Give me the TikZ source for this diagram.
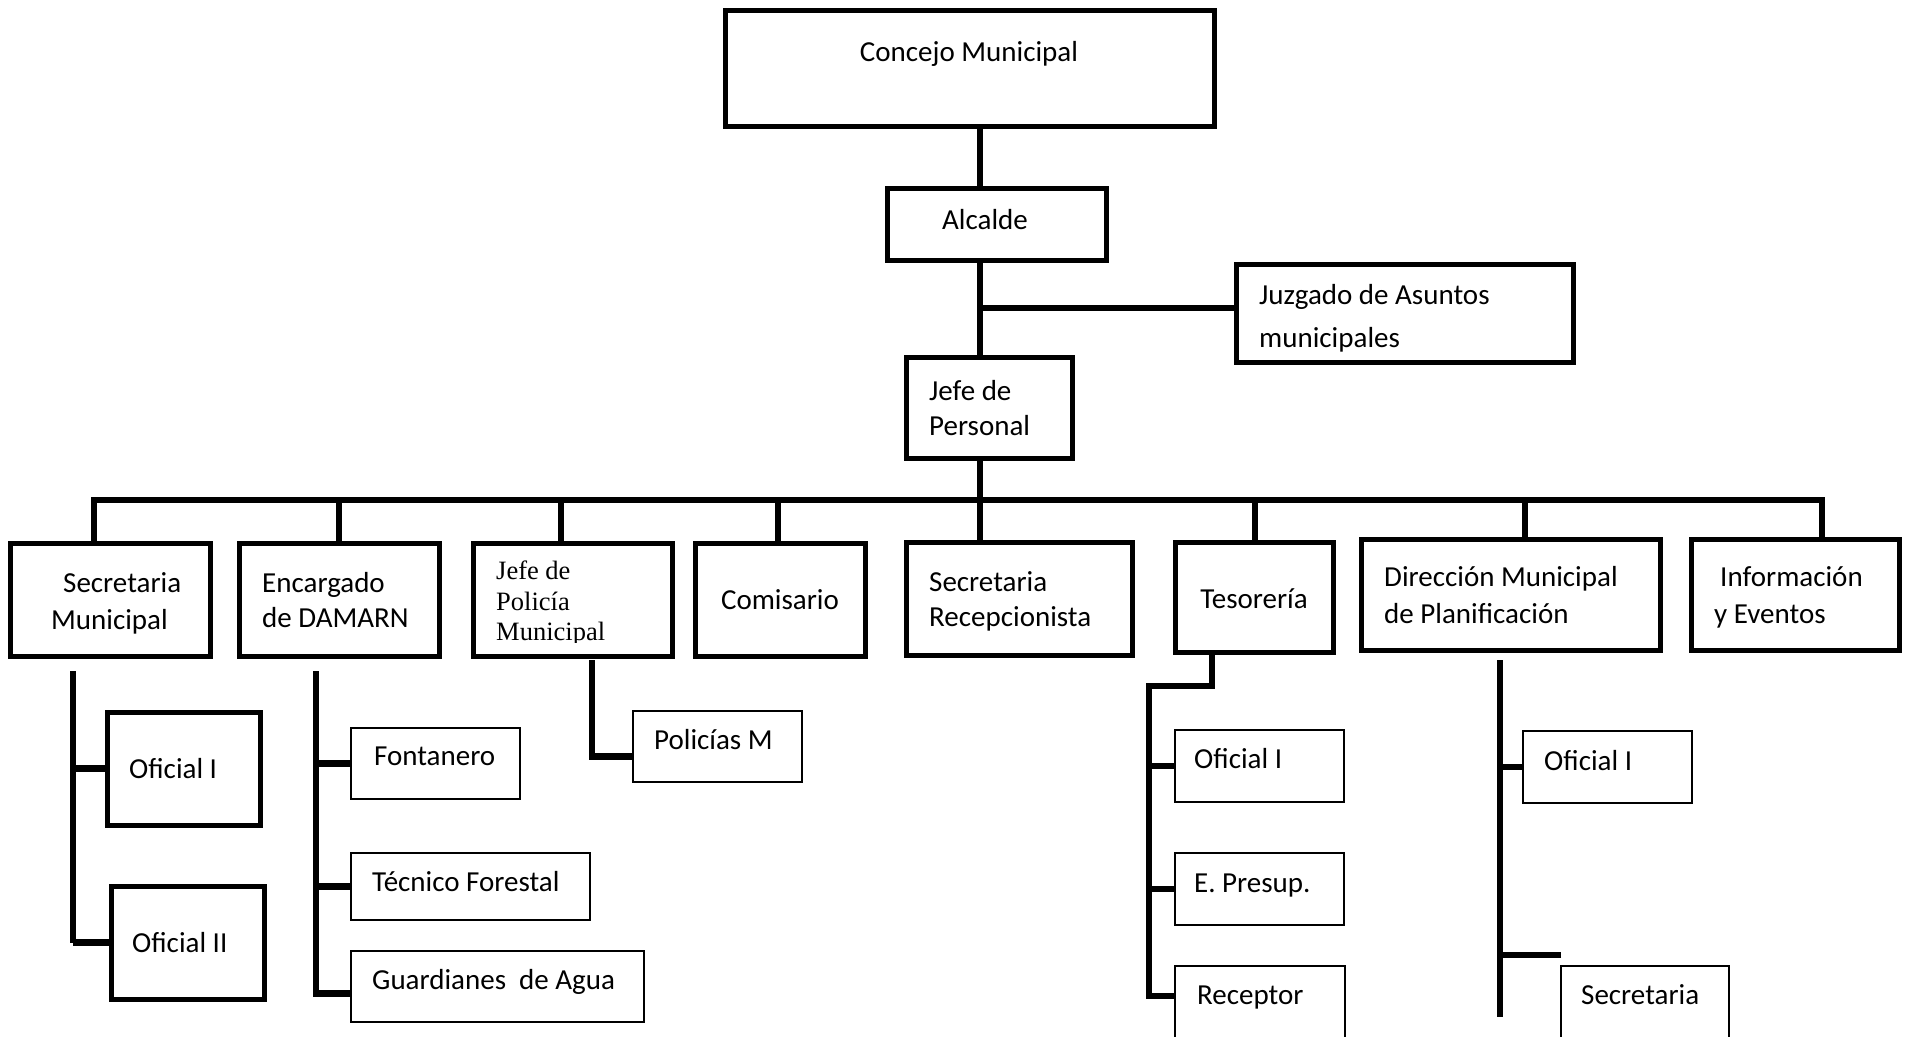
\documentclass[tikz,border=0pt]{standalone}
\usepackage{fontspec}
\setmainfont{Carlito}
\newfontfamily\timesfont{Liberation Serif}
\tikzset{
  wbox/.style={draw,line width=5pt,inner sep=0pt,outer sep=0pt,fill=white},
  nbox/.style={draw,line width=1.2pt,inner sep=0pt,outer sep=0pt,fill=white},
  link/.style={line width=6.5pt},
  lbl/.style={inner sep=0pt,align=left,font=\fontsize{29}{36}\selectfont},
}
\begin{document}
\begin{tikzpicture}[x=1pt,y=-1pt]
\fill[white](0,0)rectangle(1905,1036);
\useasboundingbox(0,0)rectangle(1905,1036);
% top of the chart
\node[wbox,minimum width=489,minimum height=116](concejo)at(969.5,68){};
\node[wbox,minimum width=219,minimum height=72](alcalde)at(996.5,224){};
\node[wbox,minimum width=337,minimum height=98](juzgado)at(1404.5,313){};
\node[wbox,minimum width=166,minimum height=101](jefeper)at(989,407.5){};
% row of offices
\node[wbox,minimum width=200,minimum height=113](secmun)at(110,599.5){};
\node[wbox,minimum width=200,minimum height=113](encarg)at(339,599.5){};
\node[wbox,minimum width=199,minimum height=113](jefepol)at(572.5,599.5){};
\node[wbox,minimum width=170,minimum height=113](comis)at(780,599.5){};
\node[wbox,minimum width=226,minimum height=113](secrec)at(1019,598.5){};
\node[wbox,minimum width=158,minimum height=110](tesor)at(1254,597){};
\node[wbox,minimum width=299,minimum height=111](dirmun)at(1510.5,594.5){};
\node[wbox,minimum width=208,minimum height=111](infev)at(1795,594.5){};
% lower level
\node[wbox,minimum width=153,minimum height=113](ofi1)at(183.5,768.5){};
\node[wbox,minimum width=153,minimum height=113](ofi2)at(187.5,942.5){};
\node[nbox,minimum width=169,minimum height=71](fontan)at(435.5,763.5){};
\node[nbox,minimum width=239,minimum height=67](tecfor)at(470.5,886.5){};
\node[nbox,minimum width=293,minimum height=71](guard)at(497.5,986.5){};
\node[nbox,minimum width=169,minimum height=71](polm)at(717.5,746.5){};
\node[nbox,minimum width=169,minimum height=72](tof1)at(1259.5,766){};
\node[nbox,minimum width=169,minimum height=72](epres)at(1259.5,889){};
\node[nbox,minimum width=170,minimum height=84](recep)at(1260,1008){};
\node[nbox,minimum width=169,minimum height=72](dof1)at(1607.5,767){};
\node[nbox,minimum width=168,minimum height=84](dsec)at(1645,1008){};
% texts (base = last line)
\node[lbl,anchor=base](concejo-t)at(969,61){Concejo Municipal};
\node[lbl,anchor=base](alcalde-t)at(985,229){Alcalde};
\node[lbl,anchor=base west,font=\fontsize{29}{43}\selectfont](juzgado-t)at(1259,347){Juzgado de Asuntos\\municipales};
\node[lbl,anchor=base west,font=\fontsize{29}{35}\selectfont](jefeper-t)at(929,435){Jefe de\\Personal};
\node[lbl,anchor=base west,font=\fontsize{29}{37}\selectfont](secmun-t)at(51,629){\hspace*{12pt}Secretaria\\Municipal};
\node[lbl,anchor=base west,font=\fontsize{29}{35}\selectfont](encarg-t)at(262,627){Encargado\\de DAMARN};
\begin{scope}
\clip(473,543)rectangle(672,642);
\node[lbl,anchor=base west,font=\timesfont\fontsize{26.5}{30.5}\selectfont](jefepol-t)at(496,640.5){Jefe de\\Policía\\Municipal};
\end{scope}
\node[lbl,anchor=base](comis-t)at(780,609){Comisario};
\node[lbl,anchor=base west,font=\fontsize{29}{35}\selectfont](secrec-t)at(929,626){Secretaria\\Recepcionista};
\node[lbl,anchor=base](tesor-t)at(1254,608){Tesorería};
\node[lbl,anchor=base west,font=\fontsize{29}{37}\selectfont](dirmun-t)at(1384,623){Dirección Municipal\\de Planificación};
\node[lbl,anchor=base west,font=\fontsize{29}{37}\selectfont](infev-t)at(1714,623){\hspace*{6pt}Información\\y Eventos};
\node[lbl,anchor=base west](ofi1-t)at(129,778){Oficial I};
\node[lbl,anchor=base west](ofi2-t)at(132,952){Oficial II};
\node[lbl,anchor=base west](fontan-t)at(374,765){Fontanero};
\node[lbl,anchor=base west](tecfor-t)at(372,891){Técnico Forestal};
\node[lbl,anchor=base west](guard-t)at(372,989){Guardianes\ \ de Agua};
\node[lbl,anchor=base west](polm-t)at(654,749){Policías M};
\node[lbl,anchor=base west](tof1-t)at(1194,768){Oficial I};
\node[lbl,anchor=base west](epres-t)at(1194,892){E. Presup.};
\node[lbl,anchor=base west](recep-t)at(1197,1004){Receptor};
\node[lbl,anchor=base west](dof1-t)at(1544,770){Oficial I};
\node[lbl,anchor=base west](dsec-t)at(1581,1004){Secretaria};
% main line
\coordinate(spine)at(980,0);
\draw[link](concejo.south-|spine)--(alcalde.north-|spine);
\draw[link](alcalde.south-|spine)--(jefeper.north-|spine);
\draw[link](jefeper.south-|spine)--(secrec.north-|spine);
\draw[link]([yshift=5pt]juzgado.west)coordinate(j)--(j-|spine);
% bus to the offices
\coordinate(bL)at(94,500);
\coordinate(bR)at(1822,500);
\draw[link](secmun.north-|bL)--(bL)--(bR)--(infev.north-|bR);
\foreach \n/\x in {encarg/339,jefepol/561,comis/778,tesor/1255,dirmun/1525}{
  \coordinate(d)at(\x,500);
  \draw[link](d)--(d|-\n.north);}
% branches below
\coordinate(c1)at(73,671);
\draw[link](c1)--(c1|-ofi2.west);
\foreach \n in {ofi1,ofi2}{\draw[link](\n.west)--(\n.west-|c1);}
\coordinate(c2)at(316,671);
\draw[link](c2)|-([yshift=-7pt]guard.west);
\foreach \n in {fontan,tecfor}{\draw[link](\n.west)--(\n.west-|c2);}
\coordinate(c3)at(592,660);
\draw[link](c3)|-([yshift=-10pt]polm.west);
\coordinate(c6)at(1149,686);
\draw[link]([xshift=-42pt]tesor.south)|-(c6)|-([yshift=12pt]recep.west);
\foreach \n in {tof1,epres}{\draw[link](\n.west)--(\n.west-|c6);}
\coordinate(c7)at(1500,660);
\draw[link](c7)--(1500,1017);
\draw[link](dof1.west)--(dof1.west-|c7);
\draw[link]([yshift=11pt]dsec.north west)coordinate(s7)--(s7-|c7);
\end{tikzpicture}
\end{document}
